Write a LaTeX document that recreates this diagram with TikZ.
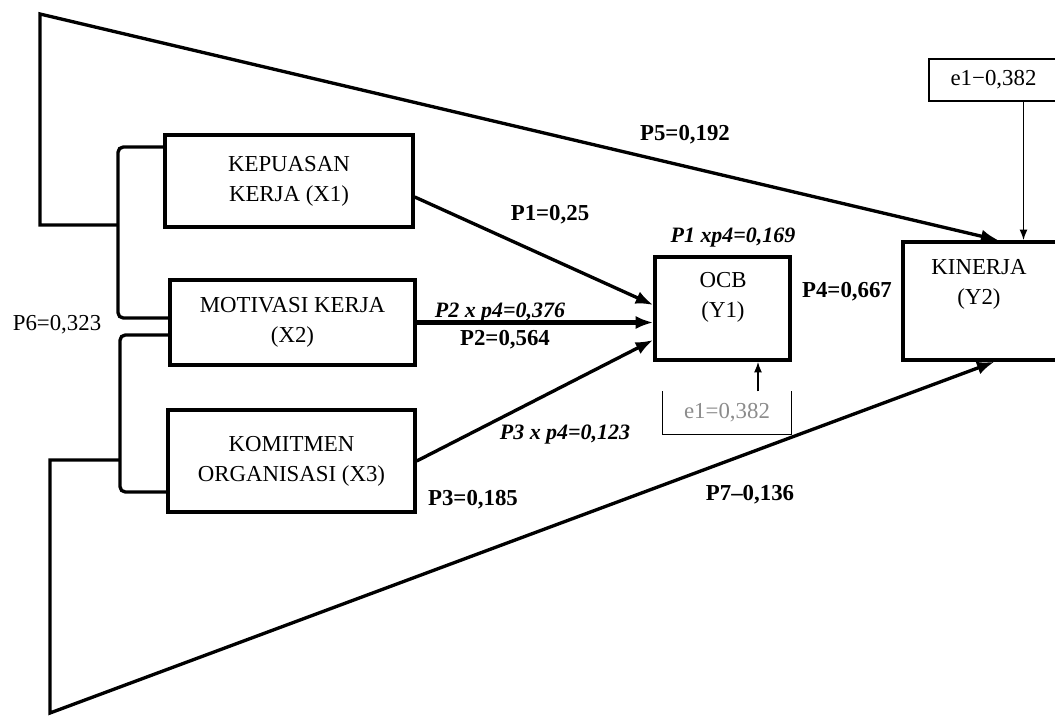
\documentclass[tikz,border=0pt]{standalone}
\usepackage{fontspec}
\setmainfont{Liberation Serif}
\usetikzlibrary{arrows.meta}

\tikzset{
    varbox/.style={draw, line width=2pt, align=center, inner sep=0pt,
        font=\fontsize{13}{17}\selectfont},
    boxtext/.style={align=center, font=\fontsize{13}{17}\selectfont},
    errbox/.style={line width=0.7pt, inner sep=0pt, font=\fontsize{13}{15}\selectfont},
    coef/.style={font=\bfseries\fontsize{13}{15}\selectfont},
    coefx/.style={font=\bfseries\itshape\fontsize{12.5}{15}\selectfont},
    link/.style={line width=1.9pt, -{Latex[length=10pt,width=7.5pt]}},
    brace/.style={line width=1.9pt, rounded corners=3pt},
}

\begin{document}
\begin{tikzpicture}[x=0.02cm, y=-0.02cm]
    \useasboundingbox (0,0) rectangle (1055,716);
    % Exogenous variables
    \node[varbox, minimum width=4.96cm, minimum height=1.84cm] (x1) at (289,181) {KEPUASAN\\KERJA (X1)};
    \node[varbox, minimum width=4.9cm, minimum height=1.7cm] (x2) at (292.5,322.5) {MOTIVASI KERJA\\(X2)};
    \node[varbox, minimum width=4.94cm, minimum height=2.04cm] (x3) at (291.5,461) {KOMITMEN\\ORGANISASI (X3)};
    % Endogenous variables
    \node[varbox, minimum width=2.7cm, minimum height=2.06cm] (ocb) at (722.5,308.5) {};
    \node[boxtext] (ocbtxt) at (723,297) {OCB\\(Y1)};
    \node[varbox, minimum width=3.1cm, minimum height=2.36cm] (kinerja) at (980.5,301) {};
    \node[boxtext] (kintxt) at (979,284) {KINERJA\\(Y2)};
    % Error terms
    \node[errbox, draw, minimum width=2.58cm, minimum height=0.84cm] (e1a) at (993.5,80) {e1−0,382};
    \node[errbox, text=black!45, minimum width=2.56cm, minimum height=0.84cm] (e1b) at (727,413) {e1=0,382};
    \draw[line width=0.7pt] (e1b.north west) -- (e1b.south west) -- (e1b.south east) -- (e1b.north east);
    \draw[line width=0.9pt, -{Latex[length=6pt,width=4.5pt]}] ([xshift=0.6cm]e1a.south) -- ([xshift=0.6cm]e1a.south |- kinerja.north);
    \draw[line width=0.9pt, -{Latex[length=6pt,width=4.5pt]}] ([xshift=0.62cm]e1b.north) -- ([xshift=0.62cm]e1b.north |- ocb.south);

    % Paths to OCB
    \draw[link] ([yshift=-0.32cm]x1.east) -- ([yshift=0.07cm]ocb.west);
    \draw[link, line width=2.7pt] (x2.east) -- (x2.east -| ocb.west);
    \draw[link] (x3.east) -- ([yshift=-0.63cm]ocb.west);

    % Correlation brackets
    \draw[brace] ([yshift=0.68cm]x1.west) -| (118,318) -- ([yshift=0.09cm]x2.west);
    \draw[brace] ([yshift=-0.25cm]x2.west) -| (120,492) -- ([yshift=-0.62cm]x3.west);
    \coordinate (b1) at (118,225);
    \coordinate (c5) at (40,14);
    \coordinate (b2) at (120,460);
    \coordinate (c7) at (50,713);

    % Direct paths to KINERJA
    \draw[link] (b1) -- (b1 -| c5) -- (c5) -- ([xshift=0.36cm]kinerja.north);
    \draw[link] (b2) -- (b2 -| c7) -- (c7) -- ([xshift=0.28cm]kinerja.south);

    % Coefficients
    \node[coef] (lp5) at (685,135) {P5=0,192};
    \node[coef] (lp1) at (550,215) {P1=0,25};
    \node[coefx] (lp1x) at (733,238) {P1 xp4=0,169};
    \node[coefx] (lp2x) at (500,313) {P2 x p4=0,376};
    \node[coef] (lp2) at (505,340) {P2=0,564};
    \node[coefx] (lp3x) at (565,435) {P3 x p4=0,123};
    \node[coef] (lp3) at (473,500) {P3=0,185};
    \node[coef] (lp4) at (847,292) {P4=0,667};
    \node[coef] (lp7) at (750,495) {P7–0,136};
    \node[font=\fontsize{13}{15}\selectfont] (lp6) at (57,325) {P6=0,323};
\end{tikzpicture}
\end{document}
